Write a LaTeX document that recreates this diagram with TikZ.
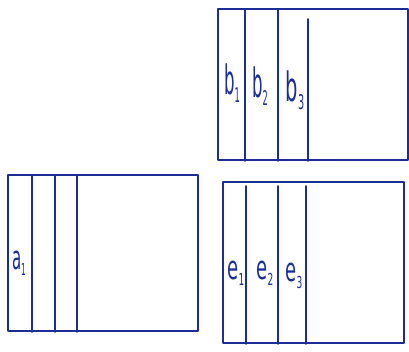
\documentclass[tikz,border=0pt]{standalone}
\usepackage{graphicx}
\usepackage{fontspec}
\setmainfont{DejaVu Sans}
\newcommand{\hlab}[4][0.7]{\scalebox{#1}[#2]{#3\raisebox{-0.35ex}{\fontsize{15}{16}\selectfont #4}}}
\begin{document}
\begin{tikzpicture}[x=1pt,y=1pt,
  ink/.style={draw={rgb,255:red,28;green,45;blue,150}, line width=1.8pt, line join=round, line cap=round},
  lbl/.style={text={rgb,255:red,28;green,45;blue,150}, font=\fontsize{30}{32}\selectfont, inner sep=0pt}]
\useasboundingbox (0,0) rectangle (409,351);
% box B (top right)
\node[ink, inner sep=0pt, minimum width=190pt, minimum height=151pt, anchor=south west] (B) at (217,190) {};
\draw[ink] (245,341) -- (245,190);
\draw[ink] (278,341) -- (278,190);
\draw[ink] (308,332) -- (308,190);
\node[lbl] (b1) at (232,268) {\hlab[0.55]{1.35}{b}{1}};
\node[lbl] (b2) at (260,265) {\hlab[0.55]{1.35}{b}{2}};
\node[lbl] (b3) at (295,261) {\hlab[0.65]{1.35}{b}{3}};
% box A (bottom left)
\node[ink, inner sep=0pt, minimum width=190pt, minimum height=156pt, anchor=south west] (A) at (7,19) {};
\draw[ink] (32,175) -- (32,19);
\draw[ink] (55,175) -- (55,19);
\draw[ink] (77,175) -- (77,19);
\node[lbl] (a1) at (19,88) {\hlab[0.5]{1.1}{a}{1}};
% box E (bottom right)
\node[ink, inner sep=0pt, minimum width=181pt, minimum height=161pt, anchor=south west] (E) at (222,7) {};
\draw[ink] (246,165) -- (246,7);
\draw[ink] (278,165) -- (278,7);
\draw[ink] (306,165) -- (306,7);
\node[lbl] (e1) at (236,78) {\hlab[0.6]{1.1}{e}{1}};
\node[lbl] (e2) at (265,78) {\hlab[0.6]{1.1}{e}{2}};
\node[lbl] (e3) at (294,75) {\hlab[0.6]{1.1}{e}{3}};
\end{tikzpicture}
\end{document}
